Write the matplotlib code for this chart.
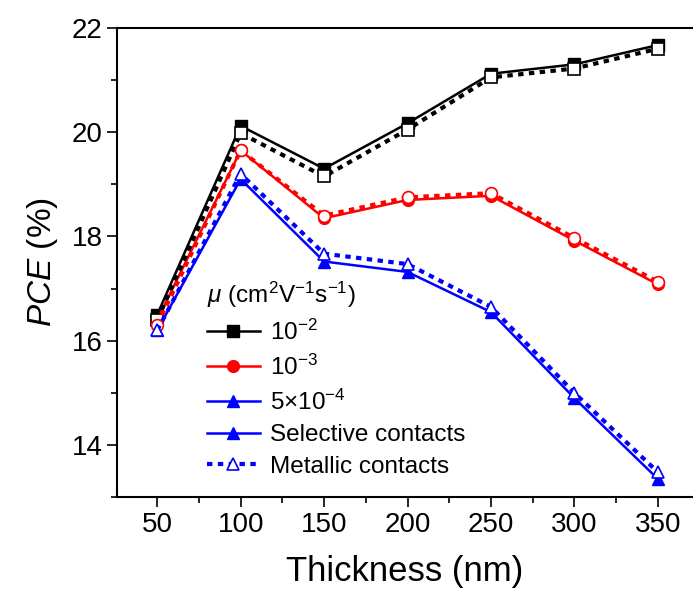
import numpy as np
import matplotlib
matplotlib.use("Agg")
import matplotlib.pyplot as plt
from matplotlib.lines import Line2D
from matplotlib.ticker import MultipleLocator

plt.rcParams["font.family"] = ["Liberation Sans", "DejaVu Sans"]
plt.rcParams["mathtext.fontset"] = "custom"
plt.rcParams["mathtext.rm"] = "Liberation Sans"
plt.rcParams["mathtext.it"] = "Liberation Sans:italic"

thickness = [50, 100, 150, 200, 250, 300, 350]

# selective contacts (solid, filled markers)
sel_1e2 = [16.5, 20.12, 19.3, 20.17, 21.12, 21.3, 21.67]
sel_1e3 = [16.4, 19.65, 18.35, 18.7, 18.78, 17.92, 17.08]
sel_5e4 = [16.2, 19.1, 17.52, 17.32, 16.55, 14.9, 13.35]

# metallic contacts (dashed, open markers)
met_1e2 = [16.4, 19.98, 19.15, 20.05, 21.05, 21.22, 21.6]
met_1e3 = [16.3, 19.65, 18.4, 18.75, 18.83, 17.97, 17.13]
met_5e4 = [16.2, 19.2, 17.67, 17.47, 16.65, 15.0, 13.48]

mu_labels = ["10$^{-2}$", "10$^{-3}$", "5\u00d710$^{-4}$"]
colors = ["black", "red", "blue"]
markers = ["s", "o", "^"]

fig = plt.figure(figsize=(6.93, 5.92), dpi=100)
ax = fig.add_axes([0.169, 0.160, 0.831, 0.793])

dash = (0, (1.3, 1.3))
for y, c, m in zip([sel_1e2, sel_1e3, sel_5e4], colors, markers):
    ax.plot(thickness, y, "-", color=c, lw=1.8, marker=m, ms=8.5, mfc=c, mec=c)
for y, c, m in zip([met_1e2, met_1e3, met_5e4], colors, markers):
    ax.plot(thickness, y, linestyle=dash, color=c, lw=3.0, marker=m, ms=8.5,
            mfc="white", mec=c, mew=1.2)

ax.set_xlim(26, 371)
ax.set_ylim(13, 22)
ax.xaxis.set_major_locator(MultipleLocator(50))
ax.xaxis.set_minor_locator(MultipleLocator(25))
ax.yaxis.set_major_locator(MultipleLocator(2))
ax.yaxis.set_minor_locator(MultipleLocator(1))
ax.tick_params(which="both", direction="out", labelsize=20, width=1.2)
ax.tick_params(which="major", length=7)
ax.tick_params(which="minor", length=4)
for s in ax.spines.values():
    s.set_linewidth(1.5)
ax.spines["right"].set_visible(False)

ax.set_xlabel("Thickness (nm)", fontsize=25, labelpad=12)
ax.set_ylabel("$PCE$ (%)", fontsize=24, labelpad=8)

handles = [Line2D([], [], color=c, lw=1.8, marker=m, ms=8.5) for c, m in zip(colors, markers)]
handles.append(Line2D([], [], color="blue", lw=1.8, marker="^", ms=8.5))
handles.append(Line2D([], [], color="blue", lw=3.0, linestyle=dash, marker="^", ms=8.5,
                      mfc="white", mec="blue", mew=1.2))
labels = mu_labels + ["Selective contacts", "Metallic contacts"]
leg = ax.legend(handles, labels, loc="lower left", bbox_to_anchor=(0.13, 0.01),
                frameon=False, fontsize=17.5, handlelength=2.2, handletextpad=0.4,
                labelspacing=0.4, borderaxespad=0.2,
                title="$\\mu$ (cm$^2$V$^{-1}$s$^{-1}$)", title_fontsize=17.5)
leg._legend_box.align = "left"

fig.savefig("out.png", dpi=100)
